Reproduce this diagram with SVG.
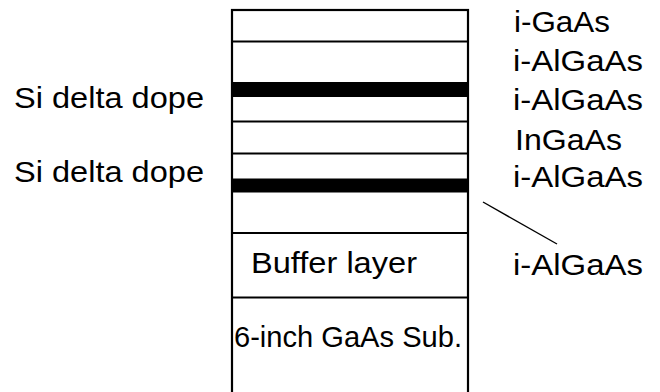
<svg xmlns="http://www.w3.org/2000/svg" width="660" height="392" viewBox="0 0 660 392">
<style>
text{font-family:"Liberation Sans",Arial,sans-serif;font-size:29px;fill:#000}
.ln{stroke:#000;stroke-width:2.2;fill:none}
.band{fill:#000}
</style>
<rect width="660" height="392" fill="#fff"/>
<g id="stack">
<rect class="ln" x="232" y="10" width="236" height="392"/>
<line class="ln" x1="232" y1="41.5" x2="468" y2="41.5"/>
<rect class="band" x="231" y="82" width="238" height="15"/>
<line class="ln" x1="232" y1="121.5" x2="468" y2="121.5"/>
<line class="ln" x1="232" y1="153.5" x2="468" y2="153.5"/>
<rect class="band" x="231" y="178.5" width="238" height="14"/>
<line class="ln" x1="232" y1="233" x2="468" y2="233"/>
<line class="ln" x1="232" y1="297.5" x2="468" y2="297.5"/>
</g>
<g id="layer-labels">
<text x="514" y="31.7" textLength="96" lengthAdjust="spacingAndGlyphs">i-GaAs</text>
<text x="513" y="70.7" textLength="130" lengthAdjust="spacingAndGlyphs">i-AlGaAs</text>
<text x="513" y="110" textLength="130" lengthAdjust="spacingAndGlyphs">i-AlGaAs</text>
<text x="515" y="149.5" textLength="107" lengthAdjust="spacingAndGlyphs">InGaAs</text>
<text x="513" y="187" textLength="130" lengthAdjust="spacingAndGlyphs">i-AlGaAs</text>
<text x="513" y="275" textLength="130" lengthAdjust="spacingAndGlyphs">i-AlGaAs</text>
</g>
<g id="dope-labels">
<text x="14" y="108.3" textLength="190" lengthAdjust="spacingAndGlyphs">Si delta dope</text>
<text x="14" y="181.7" textLength="190" lengthAdjust="spacingAndGlyphs">Si delta dope</text>
</g>
<g id="buffer">
<text x="251" y="273.3" textLength="166" lengthAdjust="spacingAndGlyphs">Buffer layer</text>
</g>
<g id="substrate">
<text x="234" y="346.7" textLength="228" lengthAdjust="spacingAndGlyphs">6-inch GaAs Sub.</text>
</g>
<g id="connectors">
<line x1="483" y1="202" x2="557" y2="244" stroke="#000" stroke-width="1.4"/>
</g>
</svg>
